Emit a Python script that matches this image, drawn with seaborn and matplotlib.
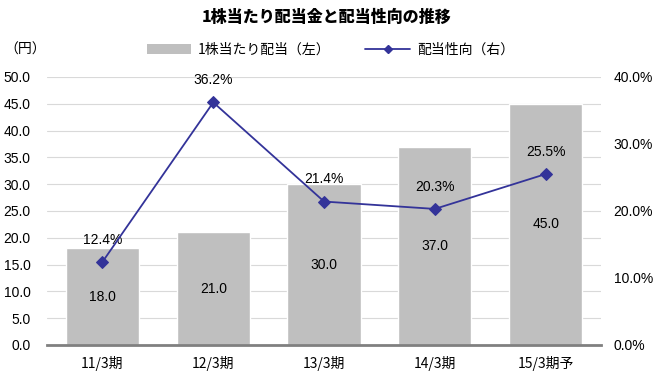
import matplotlib
matplotlib.use("Agg")
import matplotlib.pyplot as plt
import seaborn as sns
from matplotlib.ticker import MultipleLocator, FuncFormatter
from matplotlib.lines import Line2D
from matplotlib.patches import Patch

# データ
periods = ["11/3期", "12/3期", "13/3期", "14/3期", "15/3期予"]
dividend = [18.0, 21.0, 30.0, 37.0, 45.0]
payout = [12.4, 36.2, 21.4, 20.3, 25.5]

sns.set_style("white")
plt.rcParams["font.family"] = ["Liberation Sans", "Noto Sans CJK JP", "DejaVu Sans"]
plt.rcParams["text.color"] = "black"
plt.rcParams["xtick.color"] = "black"
plt.rcParams["ytick.color"] = "black"

bar_color = "#BFBFBF"
line_color = "#333399"
jp = ["Noto Sans CJK JP", "DejaVu Sans"]

fig = plt.figure(figsize=(6.54, 3.77), dpi=100)
ax = fig.add_axes([0.072, 0.085, 0.847, 0.711])

sns.barplot(x=periods, y=dividend, color=bar_color, width=0.66, ax=ax,
            saturation=1, zorder=2)
ax.bar_label(ax.containers[0], labels=[f"{v:.1f}" for v in dividend],
             label_type="center", fontsize=10)
ax.set_ylim(0, 50)
ax.set_xlim(-0.5, 4.5)
ax.yaxis.set_major_locator(MultipleLocator(5))
ax.yaxis.set_major_formatter(FuncFormatter(lambda v, p: f"{v:.1f}"))
ax.grid(axis="y", color="#D9D9D9", linewidth=0.8, zorder=0)
ax.set_axisbelow(True)
for s in ["left", "right", "top"]:
    ax.spines[s].set_visible(False)
ax.spines["bottom"].set_color("#808080")
ax.spines["bottom"].set_linewidth(2)
ax.spines["bottom"].set_zorder(5)
ax.tick_params(axis="y", length=0, labelsize=10, pad=12)
ax.tick_params(axis="x", which="major", length=0, pad=8)
ax.set_xticks([i - 0.5 for i in range(6)], minor=True)
ax.tick_params(axis="x", which="minor", length=5, width=2, color="#808080",
               direction="out")
for lbl in ax.get_xticklabels():
    lbl.set_fontfamily(jp)
    lbl.set_fontsize(10)
ax.set_xlabel("")
ax.set_ylabel("")

ax2 = ax.twinx()
sns.lineplot(x=list(range(len(periods))), y=payout, ax=ax2, color=line_color,
             marker="D", markersize=6, markeredgecolor=line_color,
             linewidth=1.3, zorder=4)
ax2.set_ylim(0, 40)
ax2.yaxis.set_major_locator(MultipleLocator(10))
ax2.yaxis.set_major_formatter(FuncFormatter(lambda v, p: f"{v:.1f}%"))
ax2.tick_params(axis="y", length=0, labelsize=10, pad=9)
for s in ["left", "right", "top", "bottom"]:
    ax2.spines[s].set_visible(False)
ax2.set_ylabel("")

for i, v in enumerate(payout):
    ax2.annotate(f"{v:.1f}%", (i, v), xytext=(0, 16), textcoords="offset points",
                 ha="center", va="center", fontsize=10)

fig.text(0.5, 0.955, "1株当たり配当金と配当性向の推移", ha="center", va="center",
         fontsize=11.5, fontweight="heavy", family=jp)
fig.text(0.038, 0.868, "（円）", ha="center", va="center", fontsize=10, family=jp)

handles = [Patch(facecolor=bar_color, edgecolor="none"),
           Line2D([0], [0], color=line_color, marker="D", markersize=4.5,
                  linewidth=1.3)]
fig.legend(handles, ["1株当たり配当（左）", "配当性向（右）"], loc="center",
           bbox_to_anchor=(0.505, 0.868), ncol=2, frameon=False,
           prop={"family": jp, "size": 10}, handlelength=3.2,
           columnspacing=2.5, handletextpad=0.5)

fig.savefig("out.png", dpi=100)
